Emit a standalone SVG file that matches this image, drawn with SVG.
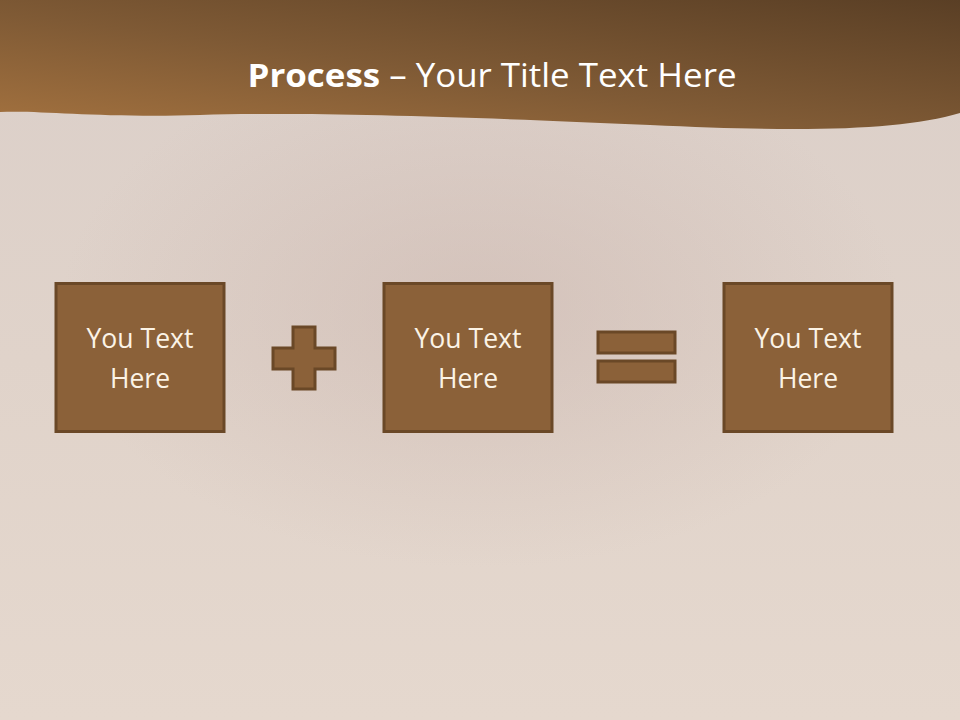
<svg xmlns="http://www.w3.org/2000/svg" width="960" height="720" viewBox="0 0 960 720">
  <defs>
    <linearGradient id="bg" x1="0" y1="0" x2="0" y2="1">
      <stop offset="0" stop-color="#dbcfc9"/>
      <stop offset="0.5" stop-color="#e0d3ca"/>
      <stop offset="1" stop-color="#e5d8ce"/>
    </linearGradient>
    <radialGradient id="orn" cx="0.5" cy="0.4" r="0.5">
      <stop offset="0" stop-color="#c6afa8" stop-opacity="0.45"/>
      <stop offset="1" stop-color="#c6afa8" stop-opacity="0"/>
    </radialGradient>
    <linearGradient id="hdr" x1="0" y1="1" x2="1" y2="0">
      <stop offset="0" stop-color="#a4723f"/>
      <stop offset="0.45" stop-color="#7f5a35"/>
      <stop offset="1" stop-color="#5a3f25"/>
    </linearGradient>
    <style>
      .box { fill: #8b6139; stroke: #6a4827; stroke-width: 3; }
      .op { fill: #8b6139; stroke: #6a4827; stroke-width: 3; }
      .lbl { font-family: "Open Sans", "Noto Sans", sans-serif; font-size: 26.5px; fill: #fbf3e6; text-anchor: middle; }
      .title { font-family: "Open Sans", "Noto Sans", sans-serif; font-size: 33px; fill: #ffffff; text-anchor: middle; }
    </style>
  </defs>
  <rect width="960" height="720" fill="url(#bg)"/>
  <rect x="60" y="100" width="840" height="520" fill="url(#orn)"/>
  <path d="M0,0 H960 V113 C900,131 800,132 650,125 C450,116 300,112 200,115 C100,118 40,110 0,112 Z" fill="url(#hdr)"/>
  <text class="title" x="492" y="87" textLength="489" lengthAdjust="spacingAndGlyphs"><tspan font-weight="bold">Process</tspan> – Your Title Text Here</text>

  <g id="node1">
    <rect class="box" x="56" y="283.5" width="168" height="148"/>
    <text class="lbl" x="140" y="348" textLength="107" lengthAdjust="spacingAndGlyphs">You Text</text>
    <text class="lbl" x="140" y="388">Here</text>
  </g>
  <g id="plus">
    <path class="op" d="M293,327 H315 V348 H335 V369 H315 V389 H293 V369 H273 V348 H293 Z"/>
  </g>
  <g id="node2">
    <rect class="box" x="384" y="283.5" width="168" height="148"/>
    <text class="lbl" x="468" y="348" textLength="107" lengthAdjust="spacingAndGlyphs">You Text</text>
    <text class="lbl" x="468" y="388">Here</text>
  </g>
  <g id="equals">
    <rect class="op" x="598" y="332" width="77" height="21"/>
    <rect class="op" x="598" y="361" width="77" height="21"/>
  </g>
  <g id="node3">
    <rect class="box" x="724" y="283.5" width="168" height="148"/>
    <text class="lbl" x="808" y="348" textLength="107" lengthAdjust="spacingAndGlyphs">You Text</text>
    <text class="lbl" x="808" y="388">Here</text>
  </g>
  <g id="connectors"></g>
</svg>
